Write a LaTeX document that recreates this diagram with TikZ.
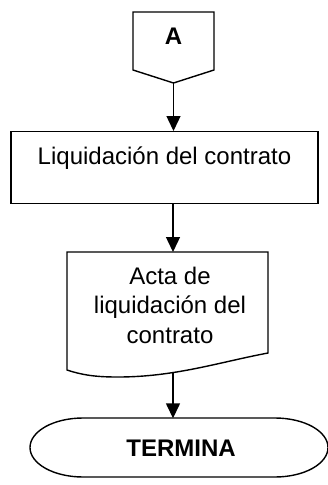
\documentclass[tikz,border=0pt]{standalone}
\usepackage{fontspec}
\setmainfont{Liberation Sans}
\usetikzlibrary{arrows.meta}

\begin{document}
\begin{tikzpicture}[x=1pt, y=-1pt,
  line/.style={draw=black, line width=1.4pt},
  arr/.style={line, -{Triangle[length=15pt,width=14pt]}},
  txt/.style={font=\fontsize{24}{29.5}\selectfont, align=center, inner sep=0pt},
  box/.style={line, txt, minimum width=307pt, text height=33pt, text depth=39pt}]
\useasboundingbox (0,0) rectangle (328,485);
% conector fuera de pagina
\draw[line] (133,12) -- (214,12) -- (214,70) -- (173.5,83) -- (133,70) -- cycle;
\coordinate (Abot) at (173.5,83);
\node[txt, font=\fontsize{24}{29.5}\selectfont\bfseries] (A) at (173.5,36) {A};
% proceso
\node[box, anchor=north] (liq) at (164.5,131) {Liquidación del contrato};
% documento
\draw[line] (67,252) -- (268,252) -- (268,353)
  .. controls (220,362) and (175,377) .. (118,377)
  .. controls (100,377) and (85,376) .. (67,370) -- cycle;
\coordinate (actatop) at (173,252);
\coordinate (actabot) at (173,373);
\node[txt] (acta) at (170,305) {Acta de\\liquidación del\\contrato};
% terminal
\draw[line] (83,418) -- (275,418) arc[start angle=-90, end angle=90, x radius=53, y radius=29.5]
  -- (83,477) arc[start angle=90, end angle=270, x radius=53, y radius=29.5] -- cycle;
\node[txt, minimum width=298pt, minimum height=59pt, font=\fontsize{24}{29.5}\selectfont\bfseries] (fin) at (181,448) {TERMINA};
\draw[arr] (Abot) -- (Abot |- liq.north);
\draw[arr] (actatop |- liq.south) -- (actatop);
\draw[arr] (actabot) -- (actabot |- fin.north);
\end{tikzpicture}
\end{document}
